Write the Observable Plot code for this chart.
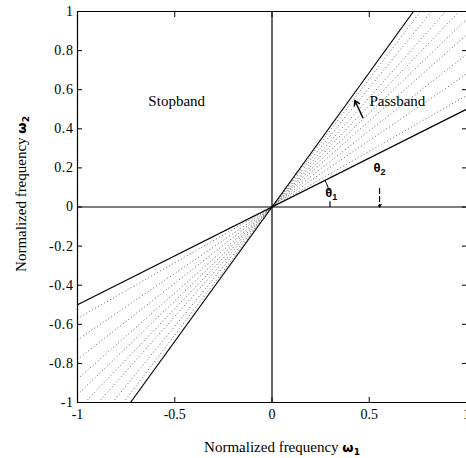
<!DOCTYPE html>
<html><head><meta charset="utf-8">
<script src="https://cdn.jsdelivr.net/npm/d3@7"></script>
<script src="https://cdn.jsdelivr.net/npm/@observablehq/plot@0.6"></script>
<style>
body{margin:0;background:#fff;}
.tl text{letter-spacing:0.6px;}
</style>
</head><body><div id="chart"></div>
<script>
// ---- data ----
const xTicks = [-1, -0.5, 0, 0.5, 1];
const yTicks = [-1, -0.8, -0.6, -0.4, -0.2, 0, 0.2, 0.4, 0.6, 0.8, 1];
const topTicks = [-0.5, 0, 0.5];
const bandEdgeSlopes = [0.5, 1.375];                 // solid edges (theta1, theta2)
const fanSlopes = [0.57, 0.68, 0.78, 0.88, 0.96, 1.04, 1.12, 1.22, 1.31]; // dotted lines
const regionNames = ["Stopband", "Passband"];
const regionX = [-0.49, 0.645];
const regionY = [0.54, 0.54];
const angleNames = ["θ1", "θ2"];
const angleX = [0.305, 0.553];
const angleY = [0.072, 0.2];
const theta1ArcDeg = [26.5, 23, 19.5, 16];
const theta1ArcR = 0.305;
const theta2Marker = {x: 0.553, y1: 0.095, y2: 0};
const theta1Tick = {x: 0.298, y1: 0.03, y2: 0};
const passArrow = {x1: 0.467, y1: 0.457, x2: 0.426, y2: 0.545};
const xTitle = "Normalized frequency ω1";
const yTitle = "Normalized frequency ω2";

// segments through origin clipped to the square
function seg(s) { const t = Math.min(1, 1 / s); return {x1: -t, y1: -s * t, x2: t, y2: s * t}; }
const edgeSegs = bandEdgeSlopes.map(seg);
const fanSegs = fanSlopes.map(seg);
const regions = regionNames.map((l, i) => ({l, x: regionX[i], y: regionY[i]}));
const angles = angleNames.map((l, i) => ({l, x: angleX[i], y: angleY[i]}));
const arc = theta1ArcDeg.map(d => ({x: theta1ArcR * Math.cos(d * Math.PI / 180), y: theta1ArcR * Math.sin(d * Math.PI / 180)}));

const serif = "'Liberation Serif', 'Times New Roman', serif";

const chart = Plot.plot({
  width: 466, height: 458,
  marginLeft: 77, marginRight: 0, marginTop: 11, marginBottom: 56,
  x: {domain: [-1, 1]},
  y: {domain: [-1, 1]},
  style: {fontFamily: serif, fontSize: "14px", background: "white", color: "black", overflow: "visible"},
  marks: [
    Plot.link(fanSegs, {x1: "x1", y1: "y1", x2: "x2", y2: "y2", stroke: "#666", strokeWidth: 1, strokeDasharray: "1,2.4"}),
    Plot.link(edgeSegs, {x1: "x1", y1: "y1", x2: "x2", y2: "y2", stroke: "black", strokeWidth: 1.2}),
    Plot.ruleX([-1, 0], {stroke: "black", strokeWidth: 1.2}),
    Plot.ruleY([-1, 0, 1], {stroke: "black", strokeWidth: 1.2}),
    Plot.axisY({anchor: "left", ticks: yTicks, tickSize: -5, tickPadding: 9, tickFormat: d => String(d), fontSize: 14, className: "tl", label: null}),
    Plot.axisY({anchor: "right", ticks: yTicks, tickSize: -5, tickFormat: () => "", label: null}),
    Plot.axisX({anchor: "bottom", ticks: xTicks, tickSize: -5, tickPadding: 12, tickFormat: d => String(d), fontSize: 14, label: null}),
    Plot.axisX({anchor: "top", ticks: topTicks, tickSize: -5, tickFormat: () => "", label: null}),
    Plot.text(regions, {x: "x", y: "y", text: "l", fontSize: 15, fontFamily: serif}),
    Plot.text(angles, {x: "x", y: "y", text: "l", fontSize: 13, fontWeight: "bold", fontFamily: "'Liberation Sans', Arial, sans-serif"}),
    Plot.line(arc, {x: "x", y: "y", stroke: "black", strokeWidth: 1}),
    Plot.link([theta1Tick], {x1: "x", x2: "x", y1: "y1", y2: "y2", stroke: "black", strokeWidth: 1.2}),
    Plot.arrow([theta2Marker], {x1: "x", x2: "x", y1: "y1", y2: "y2", stroke: "black", strokeWidth: 1.2, strokeDasharray: "5,3", headLength: 4}),
    Plot.arrow([passArrow], {x1: "x1", y1: "y1", x2: "x2", y2: "y2", stroke: "black", strokeWidth: 1.4, headLength: 6}),
    Plot.text([xTitle], {frameAnchor: "bottom", textAnchor: "middle", lineAnchor: "middle", dy: 45, dx: 10, fontSize: 15, fontFamily: serif}),
    Plot.text([yTitle], {frameAnchor: "left", textAnchor: "middle", lineAnchor: "middle", rotate: -90, dx: -56, dy: -13, fontSize: 15, fontFamily: serif})
  ]
});
document.getElementById("chart").appendChild(chart);

// render subscripts / bold omega as tspans (still real text)
d3.select(chart).selectAll("text").each(function () {
  const t = this.textContent;
  const sel = d3.select(this);
  let m;
  if ((m = t.match(/^(Normalized frequency )ω(\d)$/))) {
    sel.text(null);
    sel.append("tspan").text(m[1]);
    sel.append("tspan").attr("font-weight", "bold").attr("font-family", "'DejaVu Sans', sans-serif").attr("font-size", 13).text("ω");
    sel.append("tspan").attr("font-weight", "bold").attr("font-family", "'DejaVu Sans', sans-serif").attr("font-size", 9).attr("dy", 3).text(m[2]);
  } else if ((m = t.match(/^θ(\d)$/))) {
    sel.text(null);
    sel.append("tspan").text("θ");
    sel.append("tspan").attr("font-size", 9).attr("dy", 3).text(m[1]);
  }
});
</script>
</body></html>
